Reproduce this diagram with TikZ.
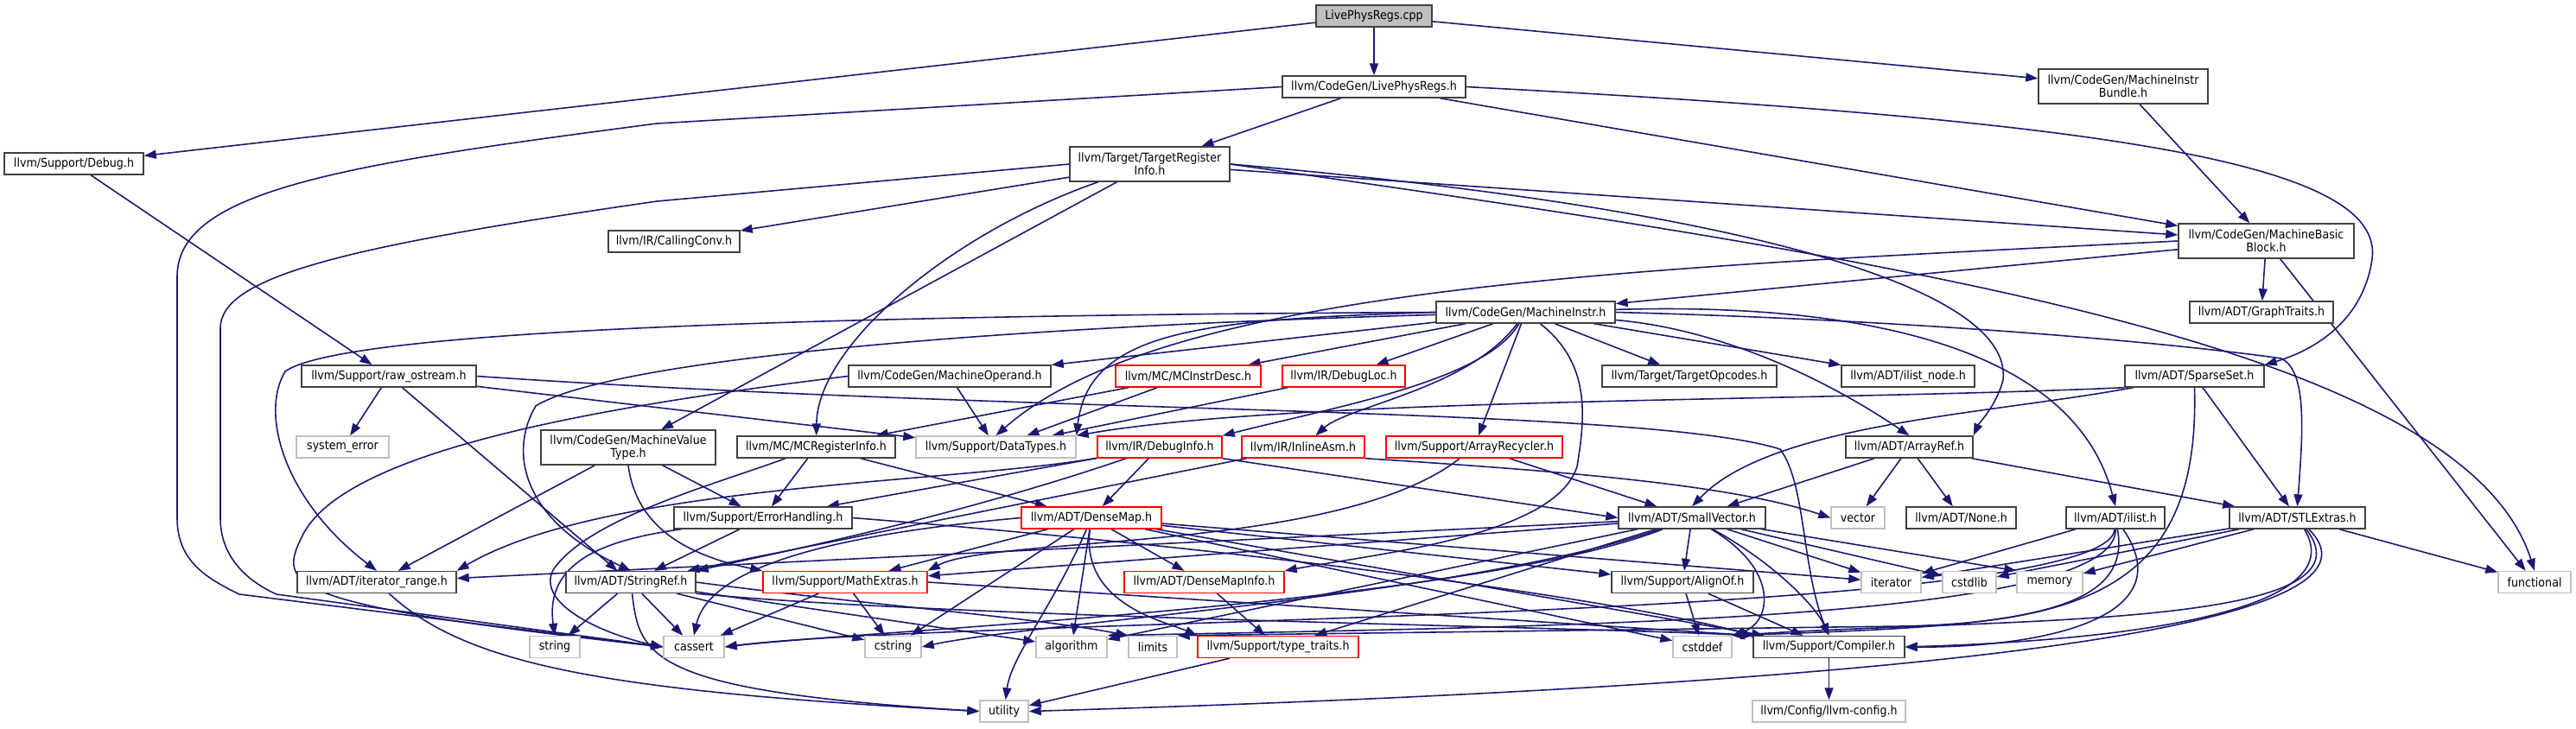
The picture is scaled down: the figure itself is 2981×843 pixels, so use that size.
\documentclass[tikz,border=0pt]{standalone}
\usepackage{fontspec}
\setmainfont{DejaVu Sans}[FakeStretch=0.9]
\usetikzlibrary{arrows.meta, backgrounds}
\definecolor{edgeblue}{RGB}{25,25,112}
\definecolor{sysgray}{RGB}{191,191,191}
\definecolor{rootgray}{RGB}{191,191,191}

\begin{document}
\begin{tikzpicture}[
  x=0.02cm, y=-0.02cm,
  hdr/.style={draw=black!75, line width=0.8pt, fill=white, inner sep=0pt, align=center,
    minimum height=0.5cm, font=\fontsize{8}{8.6}\selectfont},
  sys/.style={hdr, draw=sysgray},
  trunc/.style={hdr, draw=red},
  tall/.style={minimum height=0.8cm},
  wd/.style={minimum width=#1*0.02cm},
  dep/.style={draw=edgeblue, line width=0.9pt, -{Triangle[length=0.28cm,width=0.2cm]}}
]
  \useasboundingbox (0,0) rectangle (2981,843);

  \node[hdr, fill=rootgray, wd=134] (cpp) at (1590,18.5) {LivePhysRegs.cpp};
  \node[hdr, wd=212] (lprh) at (1590,100.5) {llvm/CodeGen/LivePhysRegs.h};
  \node[hdr, tall, wd=196] (mib) at (2457,100) {llvm/CodeGen/MachineInstr\\Bundle.h};
  \node[hdr, wd=161] (dbg) at (85.5,189.5) {llvm/Support/Debug.h};
  \node[hdr, tall, wd=185] (tri) at (1330.5,190) {llvm/Target/TargetRegister\\Info.h};
  \node[hdr, wd=152] (cc) at (780,279.5) {llvm/IR/CallingConv.h};
  \node[hdr, tall, wd=203] (mbb) at (2622.5,279) {llvm/CodeGen/MachineBasic\\Block.h};
  \node[hdr, wd=207] (mi) at (1765.5,361.5) {llvm/CodeGen/MachineInstr.h};
  \node[hdr, wd=166] (gt) at (2617,361.5) {llvm/ADT/GraphTraits.h};

  % row 5
  \node[hdr, wd=202] (ros) at (450,435.5) {llvm/Support/raw\_ostream.h};
  \node[hdr, wd=234] (mo) at (1099,435.5) {llvm/CodeGen/MachineOperand.h};
  \node[trunc, wd=168] (mcid) at (1375,435.5) {llvm/MC/MCInstrDesc.h};
  \node[trunc, wd=142] (dloc) at (1555,435.5) {llvm/IR/DebugLoc.h};
  \node[hdr, wd=202] (topc) at (1955,435.5) {llvm/Target/TargetOpcodes.h};
  \node[hdr, wd=154] (iln) at (2208,435.5) {llvm/ADT/ilist\_node.h};
  \node[hdr, wd=161] (sps) at (2539.5,435.5) {llvm/ADT/SparseSet.h};

  % row 6
  \node[sys, wd=107] (syserr) at (396.5,517.5) {system\_error};
  \node[hdr, tall, wd=202] (mvt) at (727,518) {llvm/CodeGen/MachineValue\\Type.h};
  \node[hdr, wd=183] (mcri) at (944.5,517.5) {llvm/MC/MCRegisterInfo.h};
  \node[sys, wd=185] (dt) at (1152.5,517.5) {llvm/Support/DataTypes.h};
  \node[trunc, wd=144] (dinfo) at (1342,517.5) {llvm/IR/DebugInfo.h};
  \node[trunc, wd=142] (iasm) at (1508,517.5) {llvm/IR/InlineAsm.h};
  \node[trunc, wd=204] (arec) at (1706,517.5) {llvm/Support/ArrayRecycler.h};
  \node[hdr, wd=147] (aref) at (2209.5,517.5) {llvm/ADT/ArrayRef.h};

  % row 7
  \node[hdr, wd=206] (eh) at (883,599.5) {llvm/Support/ErrorHandling.h};
  \node[trunc, wd=162] (dmap) at (1263,599.5) {llvm/ADT/DenseMap.h};
  \node[hdr, wd=170] (svec) at (1958,599.5) {llvm/ADT/SmallVector.h};
  \node[sys, wd=62] (vec) at (2150,599.5) {vector};
  \node[hdr, wd=127] (none) at (2269.5,599.5) {llvm/ADT/None.h};
  \node[hdr, wd=114] (ilist) at (2448,599.5) {llvm/ADT/ilist.h};
  \node[hdr, wd=157] (stl) at (2658.5,599.5) {llvm/ADT/STLExtras.h};

  % row 8
  \node[hdr, wd=184] (itr) at (436,674) {llvm/ADT/iterator\_range.h};
  \node[hdr, wd=150] (sref) at (730,674) {llvm/ADT/StringRef.h};
  \node[trunc, wd=190] (mext) at (978,674) {llvm/Support/MathExtras.h};
  \node[trunc, wd=185] (dmi) at (1393.5,674) {llvm/ADT/DenseMapInfo.h};
  \node[hdr, wd=164] (align) at (1947,674) {llvm/Support/AlignOf.h};
  \node[sys, wd=69] (iter) at (2188.5,674) {iterator};
  \node[sys, wd=62] (cstdlib) at (2279,674) {cstdlib};
  \node[sys, wd=76] (mem) at (2372,674) {memory};
  \node[sys, wd=84] (func) at (2933,674) {functional};

  % row 9
  \node[sys, wd=58] (str) at (642,749) {string};
  \node[sys, wd=70] (cas) at (803,749) {cassert};
  \node[sys, wd=65] (cstr) at (1033.5,749) {cstring};
  \node[sys, wd=82] (alg) at (1240,749) {algorithm};
  \node[sys, wd=56] (lim) at (1334,749) {limits};
  \node[trunc, wd=186] (tt) at (1479,749) {llvm/Support/type\_traits.h};
  \node[sys, wd=68] (cdef) at (1970,749) {cstddef};
  \node[hdr, wd=175] (comp) at (2116.5,749) {llvm/Support/Compiler.h};

  % row 10
  \node[sys, wd=56] (util) at (1162,823.5) {utility};
  \node[sys, wd=177] (cfg) at (2116.5,823.5) {llvm/Config/llvm-config.h};

  \begin{scope}[on background layer]
    % top
    \draw[dep] (cpp) -- (lprh);
    \draw[dep] (cpp) -- (mib);
    \draw[dep] (cpp) -- (dbg);
    \draw[dep] (mib) -- (mbb);
    \draw[dep] (lprh) -- (tri);
    \draw[dep] (lprh) -- (mbb);
    \draw[dep] (lprh.east) .. controls (2450,140) and (2760,190) .. (2745,300) .. controls (2735,370) and (2680,405) .. (sps.north east);
    \draw[dep] (lprh.west) -- (760,143) .. controls (400,190) and (205,220) .. (205,320) -- (205,600) .. controls (205,650) and (240,670) .. (277,688) -- (cas.west);
    \draw[dep] (dbg) -- (ros);

    % TargetRegisterInfo.h
    \draw[dep] (tri) -- (cc);
    \draw[dep] (tri) -- (mbb);
    \draw[dep] (tri) -- (mvt);
    \draw[dep] (tri) .. controls (1100,270) and (946,400) .. (mcri);
    \draw[dep] (tri.east) .. controls (2000,240) and (2330,330) .. (2318,440) .. controls (2310,470) and (2290,490) .. (aref.north east);
    \draw[dep] (tri.east) .. controls (2200,300) and (2850,400) .. (func.north);
    \draw[dep] (tri.west) -- (760,233) .. controls (400,285) and (255,320) .. (255,380) -- (255,600) .. controls (255,640) and (280,670) .. (320,688) -- (cas.west);

    % MachineBasicBlock.h
    \draw[dep] (mbb) -- (gt);
    \draw[dep] (mbb) -- (mi);
    \draw[dep] (mbb) -- (func);
    \draw[dep] (mbb.west) .. controls (1900,310) and (1350,330) .. (dt.north);

    % MachineInstr.h
    \draw[dep] (mi) -- (mo);
    \draw[dep] (mi) -- (mcid);
    \draw[dep] (mi) -- (dloc);
    \draw[dep] (mi) -- (topc);
    \draw[dep] (mi) -- (iln);
    \draw[dep] (mi) -- (arec);
    \draw[dep] (mi) .. controls (1700,450) and (1560,470) .. (iasm);
    \draw[dep] (mi) .. controls (1720,440) and (1550,470) .. (dinfo.north east);
    \draw[dep] (mi) .. controls (1840,420) and (1835,480) .. (1825,540) .. controls (1800,620) and (1600,640) .. (dmi.north east);
    \draw[dep] (mi) .. controls (1980,380) and (2100,430) .. (aref.north);
    \draw[dep] (mi) .. controls (2150,350) and (2400,400) .. (ilist.north);
    \draw[dep] (mi.east) .. controls (2200,370) and (2500,395) .. (2640,415) .. controls (2670,430) and (2665,500) .. (stl.north);
    \draw[dep] (mi.west) .. controls (1400,370) and (1260,380) .. (dt.north east);
    \draw[dep] (mi.west) .. controls (1000,365) and (400,380) .. (330,430) .. controls (300,480) and (330,580) .. (itr.north);
    \draw[dep] (mi) .. controls (1100,380) and (700,420) .. (620,470) .. controls (590,520) and (600,600) .. (sref.north);

    % middle rows
    \draw[dep] (mo) -- (dt);
    \draw[dep] (mo.west) .. controls (700,470) and (400,520) .. (350,620) .. controls (320,680) and (330,700) .. (cas.west);
    \draw[dep] (mcid) -- (dt);
    \draw[dep] (mcid) -- (mcri);
    \draw[dep] (dloc) -- (dt);
    \draw[dep] (dinfo) -- (dmap);
    \draw[dep] (dinfo) -- (eh);
    \draw[dep] (dinfo.south east) -- (svec.west);
    \draw[dep] (dinfo) .. controls (1100,600) and (900,640) .. (sref.north east);
    \draw[dep] (dinfo) .. controls (1100,560) and (700,560) .. (itr.north east);
    \draw[dep] (iasm) -- (sref);
    \draw[dep] (iasm.south east) .. controls (1800,545) and (2000,560) .. (vec.west);
    \draw[dep] (arec) -- (svec);
    \draw[dep] (arec) .. controls (1550,640) and (1150,620) .. (mext.north east);
    \draw[dep] (mvt) -- (itr);
    \draw[dep] (mvt) -- (eh);
    \draw[dep] (mvt.south) .. controls (735,600) and (780,640) .. (mext.north west);
    \draw[dep] (mcri) -- (eh);
    \draw[dep] (mcri) -- (dmap);
    \draw[dep] (mcri) .. controls (830,560) and (680,600) .. (640,660) .. controls (620,700) and (700,735) .. (cas.west);
    \draw[dep] (ros) -- (syserr);
    \draw[dep] (ros) -- (sref);
    \draw[dep] (ros) -- (dt);
    \draw[dep] (ros.east) .. controls (1200,480) and (1900,470) .. (2060,520) .. controls (2090,560) and (2085,660) .. (comp.north);
    \draw[dep] (sps) -- (stl);
    \draw[dep] (sps) .. controls (2300,480) and (2050,490) .. (svec.north);
    \draw[dep] (sps.south west) .. controls (2100,465) and (1500,460) .. (dt.north east);
    \draw[dep] (sps.south) .. controls (2545,650) and (2450,720) .. (2200,725) -- (lim.north east);
    \draw[dep] (aref) -- (svec);
    \draw[dep] (aref) -- (vec);
    \draw[dep] (aref) -- (none);
    \draw[dep] (aref) -- (stl);

    % SmallVector.h
    \draw[dep] (svec) -- (itr);
    \draw[dep] (svec) -- (align);
    \draw[dep] (svec) .. controls (2050,650) and (2100,700) .. (comp.north);
    \draw[dep] (svec) -- (mext);
    \draw[dep] (svec) -- (tt);
    \draw[dep] (svec) -- (alg);
    \draw[dep] (svec) .. controls (1700,700) and (1000,730) .. (cas.east);
    \draw[dep] (svec) .. controls (2060,660) and (2050,720) .. (cdef.north east);
    \draw[dep] (svec) -- (cstdlib);
    \draw[dep] (svec) .. controls (1700,690) and (1200,720) .. (cstr.east);
    \draw[dep] (svec) -- (iter);
    \draw[dep] (svec) -- (mem.north west);

    % STLExtras.h, ilist.h
    \draw[dep] (stl) -- (func);
    \draw[dep] (stl) -- (mem);
    \draw[dep] (stl) -- (cstdlib);
    \draw[dep] (stl) -- (iter);
    \draw[dep] (stl) .. controls (2720,700) and (2500,740) .. (comp.east);
    \draw[dep] (stl) .. controls (2760,730) and (2300,715) .. (cdef.north east);
    \draw[dep] (stl) .. controls (2780,720) and (2300,790) .. (util.east);
    \draw[dep] (ilist) -- (iter);
    \draw[dep] (ilist) .. controls (2530,720) and (2350,750) .. (comp.east);
    \draw[dep] (ilist) .. controls (2470,720) and (2300,725) .. (cdef.north east);
    \draw[dep] (ilist) .. controls (2450,720) and (1800,725) .. (alg.north east);
    \draw[dep] (ilist) .. controls (2440,720) and (1100,715) .. (cas.east);

    % DenseMap.h
    \draw[dep] (dmap) -- (dmi);
    \draw[dep] (dmap) -- (mext);
    \draw[dep] (dmap) .. controls (1250,700) and (1350,720) .. (tt.north west);
    \draw[dep] (dmap) -- (alg);
    \draw[dep] (dmap.west) .. controls (950,620) and (820,660) .. (cas.north);
    \draw[dep] (dmap) -- (cstr);
    \draw[dep] (dmap) .. controls (1220,700) and (1170,760) .. (util);
    \draw[dep] (dmap) -- (align);
    \draw[dep] (dmap) -- (comp);
    \draw[dep] (dmap) -- (cdef);
    \draw[dep] (dmap) -- (iter);

    % lower rows
    \draw[dep] (dmi) -- (tt);
    \draw[dep] (mext) -- (cas);
    \draw[dep] (mext) -- (cstr);
    \draw[dep] (mext.east) -- (comp.north west);
    \draw[dep] (eh) -- (sref);
    \draw[dep] (eh) .. controls (700,625) and (630,650) .. (str.north);
    \draw[dep] (eh.east) .. controls (1500,640) and (1900,700) .. (comp.north west);
    \draw[dep] (sref) -- (str);
    \draw[dep] (sref) -- (cas);
    \draw[dep] (sref) -- (cstr);
    \draw[dep] (sref) -- (alg);
    \draw[dep] (sref.east) .. controls (1000,700) and (1200,715) .. (lim.north west);
    \draw[dep] (sref) .. controls (740,760) and (750,800) .. (util.west);
    \draw[dep] (sref.south east) .. controls (1100,715) and (1800,725) .. (comp.north west);
    \draw[dep] (itr) .. controls (540,770) and (700,800) .. (util.west);
    \draw[dep] (align) -- (cdef);
    \draw[dep] (align) -- (comp);
    \draw[dep] (tt) -- (util);
    \draw[dep] (comp) -- (cfg);
  \end{scope}
\end{tikzpicture}
\end{document}
